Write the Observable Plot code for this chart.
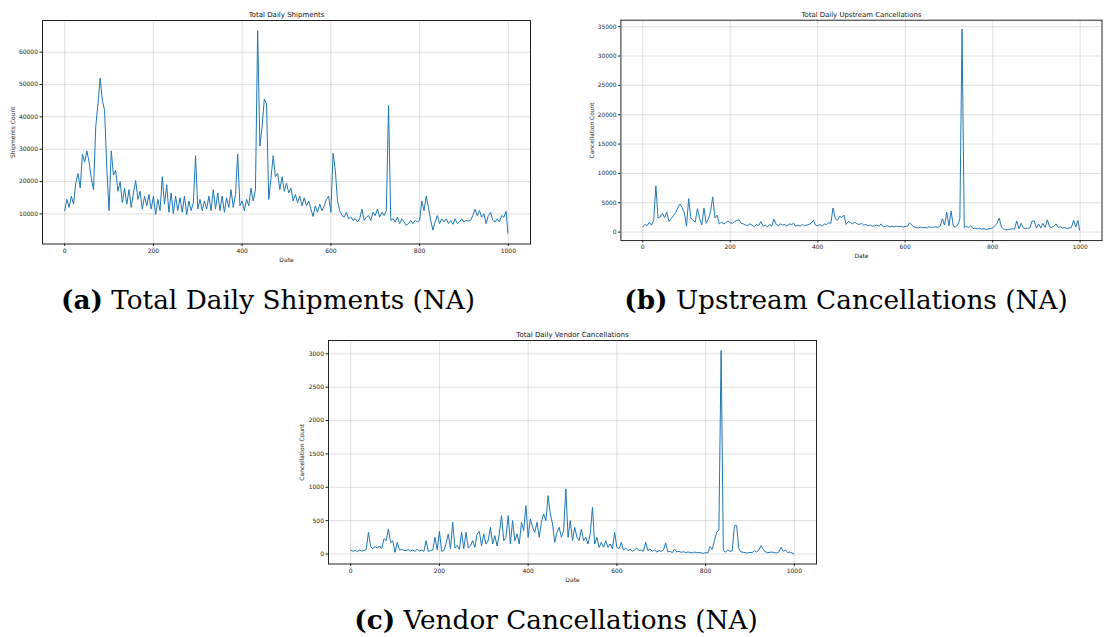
<!DOCTYPE html>
<html><head><meta charset="utf-8">
<script src="https://cdn.jsdelivr.net/npm/d3@7"></script>
<script src="https://cdn.jsdelivr.net/npm/@observablehq/plot@0.6"></script>
<style>
html,body{margin:0;padding:0;background:#fff;}
#root{position:relative;width:1111px;height:637px;overflow:hidden;background:#fff;}
.panel{position:absolute;}
.cap{position:absolute;font-family:"DejaVu Serif",serif;font-size:26.3px;color:#000;white-space:nowrap;transform:translate(-50%,-50%);line-height:1;}
.cap b{font-weight:bold;}
</style></head><body><div id="root"></div>
<script>
const days = [0,5,10,15,20,25,30,35,40,45,50,55,60,65,70,75,80,85,90,95,
100,105,110,115,120,125,130,135,140,145,150,155,160,165,170,175,180,185,190,195,
200,205,210,215,220,225,230,235,240,245,250,255,260,265,270,275,280,285,290,295,
300,305,310,315,320,325,330,335,340,345,350,355,360,365,370,375,380,385,390,395,
400,405,410,415,420,425,430,435,440,445,450,455,460,465,470,475,480,485,490,495,
500,505,510,515,520,525,530,535,540,545,550,555,560,565,570,575,580,585,590,595,
600,605,610,615,620,625,630,635,640,645,650,655,660,665,670,675,680,685,690,695,
700,705,710,715,720,725,730,735,740,745,750,755,760,765,770,775,780,785,790,795,
800,805,810,815,820,825,830,835,840,845,850,855,860,865,870,875,880,885,890,895,
900,905,910,915,920,925,930,935,940,945,950,955,960,965,970,975,980,985,990,995,999];

const shipments = [11000,14500,12000,15500,13000,19500,22500,18000,28500,26000,29500,26000,21000,17500,37000,44000,52000,45000,42000,24000,
11000,29500,22000,23500,17000,20000,13500,18000,13000,17500,12000,16500,20300,14500,17000,11500,15500,12500,16000,11500,
15500,9800,14500,11000,21500,13000,19000,10500,16500,10000,15500,11000,15000,10500,15500,9800,14000,11000,13500,28000,
11500,14500,11000,14000,11500,15500,11000,17500,11500,16500,11000,15500,10500,15000,12000,17500,12000,16000,28500,12500,
14000,11000,14500,12500,18000,14000,17500,66700,31000,37000,45500,44000,14500,21000,28000,21500,22500,17500,21500,17000,
19500,16500,18000,14000,16000,13500,15500,12500,15000,12500,14000,11500,9200,12500,10500,13000,11000,12500,14500,15500,
10500,28800,23500,14000,11000,9500,9000,10500,8500,9000,8000,8500,7500,8500,11500,8000,9000,9500,8000,10500,
9500,11500,9000,10500,9500,11000,43500,8000,8500,7500,9000,7000,8500,7500,6500,7000,8000,7000,8000,7500,
8000,14000,11000,15500,12000,8000,5000,7500,9500,7000,8500,7500,8500,7000,8000,6800,8500,7000,7500,8500,
7500,8000,7800,8000,9500,11500,9500,11000,9000,10000,7000,9500,10500,8000,7500,8500,7500,9500,9000,10800,4000];

const upstream = [900,1300,1100,1700,1200,2000,7900,2400,2600,3200,2500,3400,1800,2300,2800,3300,4100,4800,4200,3300,
1000,5700,2400,2000,1700,4000,2300,1200,4100,1500,2200,3500,6000,2400,2900,1400,1700,1400,1600,1900,
1600,1500,1800,2000,2100,1500,1400,1200,1100,1400,1200,900,1300,1100,1800,1000,1200,900,1300,1000,
2200,1300,1100,1400,1200,1300,1000,1400,1300,1500,1000,1200,1000,1300,1100,1200,1300,1500,2000,1200,
1100,1300,1000,1400,1300,1600,1500,4100,2300,2000,2700,2500,2900,1300,1800,1600,1400,1700,1400,1300,
1500,1200,1300,1100,1200,1000,1100,1200,1000,1400,900,1000,1100,900,1000,850,1000,950,1000,850,
950,1000,1600,1200,900,800,700,850,750,800,700,900,800,850,900,800,1000,2300,1200,3400,
1100,3600,1000,900,1200,2300,34600,800,1000,700,1100,600,700,550,650,500,600,450,550,600,
700,1100,1500,2400,900,500,400,450,500,550,500,1900,600,1500,700,600,650,700,1900,1900,
700,1400,700,1500,800,2100,900,800,1000,1400,800,900,700,800,600,700,800,2000,900,2000,300];

const vendor = [60,40,55,35,60,45,50,70,325,110,80,110,90,120,80,230,200,375,170,200,
25,175,60,70,55,50,65,45,60,40,70,45,55,40,200,40,50,60,250,60,
340,40,50,160,300,80,475,90,130,70,325,80,325,90,120,200,100,300,340,120,
300,150,200,400,150,275,120,300,575,200,250,575,150,500,200,300,150,475,350,725,
250,525,400,325,475,250,475,600,500,875,600,450,175,325,400,250,350,975,250,500,
200,400,250,200,375,200,250,150,300,700,150,250,100,175,100,200,100,150,75,325,
100,80,175,60,90,50,70,40,60,90,50,60,40,175,50,75,40,60,30,50,
40,60,165,30,40,20,75,30,40,25,35,20,30,25,15,30,20,25,15,10,
20,15,110,70,200,325,360,3050,50,30,60,40,50,425,425,75,30,25,20,15,
25,20,50,30,60,125,70,30,20,25,30,20,15,30,100,40,60,20,30,15,0];

const xTicks = [0,200,400,600,800,1000];
const shipTicks = [10000,20000,30000,40000,50000,60000];
const upTicks = [0,5000,10000,15000,20000,25000,30000,35000];
const vendTicks = [0,500,1000,1500,2000,2500,3000];
const titles = ["Total Daily Shipments","Total Daily Upstream Cancellations","Total Daily Vendor Cancellations"];
const yLabels = ["Shipments Count","Cancellation Count","Cancellation Count"];
const xLabel = "Date";
const captionTags = ["(a)","(b)","(c)"];
const captionTexts = ["Total Daily Shipments (NA)","Upstream Cancellations (NA)","Vendor Cancellations (NA)"];

function panel(values, yDomain, yTicks, title, ylabel, yLabelOffset) {
  const data = days.map((d, i) => ({day: d, value: values[i]}));
  return Plot.plot({
    width: 543, height: 270.5,
    marginLeft: 45, marginRight: 10, marginTop: 20, marginBottom: 27,
    style: {fontFamily: "'DejaVu Sans', sans-serif", fontSize: "6px", color: "#222", background: "transparent", overflow: "visible"},
    x: {domain: [-50, 1050]},
    y: {domain: yDomain},
    marks: [
      Plot.gridX(xTicks, {stroke: "#b0b0b0", strokeOpacity: 0.5, strokeWidth: 0.8}),
      Plot.gridY(yTicks, {stroke: "#b0b0b0", strokeOpacity: 0.5, strokeWidth: 0.8}),
      Plot.line(data, {x: "day", y: "value", stroke: "#1f77b4", strokeWidth: 1}),
      Plot.frame({stroke: "#222", strokeWidth: 1}),
      Plot.axisX(xTicks, {tickSize: 2.5, tickPadding: 2, fontSize: 6, fill: "#222", stroke: "#222", label: xLabel, labelArrow: false, labelAnchor: "center", labelOffset: 18, tickFormat: d => String(d)}),
      Plot.axisY(yTicks, {tickSize: 2.5, tickPadding: 2, fontSize: 6, fill: "#222", stroke: "#222", label: ylabel, labelArrow: false, labelAnchor: "center", labelOffset: yLabelOffset, tickFormat: d => String(d)}),
      Plot.text([title], {frameAnchor: "top", dy: -8.5, fontSize: 7, fill: "#111"})
    ]
  });
}

const root = document.getElementById("root");
function place(node, left, top) {
  const div = document.createElement("div");
  div.className = "panel";
  div.style.left = left + "px";
  div.style.top = top + "px";
  div.appendChild(node);
  root.appendChild(div);
}
place(panel(shipments, [700, 69800], shipTicks, titles[0], yLabels[0], 32), -2.7, 0);
place(panel(upstream, [-1440, 36100], upTicks, titles[1], yLabels[1], 32), 575.6, 0);
place(panel(vendor, [-150, 3200], vendTicks, titles[2], yLabels[2], 29), 283.3, 320);

function caption(i, cx, cy) {
  const s = document.createElement("div");
  s.className = "cap";
  s.style.left = cx + "px";
  s.style.top = cy + "px";
  const b = document.createElement("b");
  b.textContent = captionTags[i];
  s.appendChild(b);
  s.appendChild(document.createTextNode(" " + captionTexts[i]));
  root.appendChild(s);
}
caption(0, 268, 300);
caption(1, 846, 300);
caption(2, 556, 620);
</script>
</body></html>
